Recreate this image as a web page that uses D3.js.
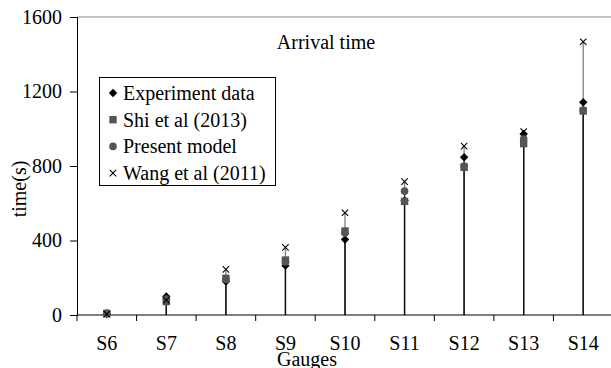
<!DOCTYPE html>
<html>
<head>
<meta charset="utf-8">
<script src="https://cdn.jsdelivr.net/npm/d3@7"></script>
<style>
  html, body { margin: 0; padding: 0; background: #fff; }
  svg { display: block; }
  svg text { font-family: "Liberation Serif", "Times New Roman", Times, serif; fill: #000; }
</style>
</head>
<body>
<svg id="chart" width="611" height="368"></svg>
<script>
// Gauges along the channel and arrival times (s) at each one
const gauges = ["S6", "S7", "S8", "S9", "S10", "S11", "S12", "S13", "S14"];
const experiment = [5, 100, 180, 265, 405, 615, 847, 972, 1142];
const shi2013 = [8, 72, 197, 295, 451, 610, 793, 920, 1095];
const presentModel = [10, 85, 190, 285, 440, 665, 800, 945, 1100];
const wang2011 = [5, 80, 245, 363, 549, 716, 907, 985, 1467];
const yTicks = [0, 400, 800, 1200, 1600];

const series = [
  { name: "Experiment data", values: experiment, shape: "diamond", color: "#000" },
  { name: "Shi et al (2013)", values: shi2013, shape: "square", color: "#555" },
  { name: "Present model", values: presentModel, shape: "circle", color: "#555" },
  { name: "Wang et al (2011)", values: wang2011, shape: "cross", color: "#000" }
];

const svg = d3.select("#chart");
const plotLeft = 77, plotRight = 613, plotTop = 17, plotBottom = 315;
const fontSize = 20;

const x = d3.scaleBand().domain(gauges).range([plotLeft, plotRight]).padding(0);
const y = d3.scaleLinear().domain([0, 1600]).range([plotBottom, plotTop]);
const cx = g => x(g) + x.bandwidth() / 2;

// top frame line
svg.append("line")
  .attr("x1", plotLeft).attr("x2", 611).attr("y1", plotTop).attr("y2", plotTop)
  .attr("stroke", "#888").attr("stroke-width", 1);

// drop lines from each point to the axis
series.forEach(s => {
  svg.append("g").selectAll("line").data(s.values).join("line")
    .attr("x1", (d, i) => cx(gauges[i]))
    .attr("x2", (d, i) => cx(gauges[i]))
    .attr("y1", d => y(d)).attr("y2", y(0))
    .attr("stroke", "#000").attr("stroke-opacity", 0.5).attr("stroke-width", 1.3);
});

// y axis
const yAxis = svg.append("g").attr("transform", `translate(${plotLeft},0)`)
  .call(d3.axisLeft(y).tickValues(yTicks).tickSize(7).tickPadding(8).tickFormat(d3.format("d")));
yAxis.attr("font-family", null).attr("font-size", fontSize);
yAxis.select(".domain").attr("stroke", "#000");
yAxis.selectAll("text").attr("font-size", fontSize);

// x axis: labels centred under each gauge, ticks between gauges
const xAxis = svg.append("g").attr("transform", `translate(0,${plotBottom})`)
  .call(d3.axisBottom(x).tickSize(0).tickPadding(21));
xAxis.attr("font-family", null).attr("font-size", fontSize);
xAxis.select(".domain").remove();
xAxis.selectAll("text").attr("font-size", fontSize);
svg.append("line").attr("x1", plotLeft).attr("x2", 611).attr("y1", plotBottom).attr("y2", plotBottom)
  .attr("stroke", "#000");
svg.append("g").selectAll("line").data(gauges).join("line")
  .attr("x1", d => x(d)).attr("x2", d => x(d))
  .attr("y1", plotBottom).attr("y2", plotBottom + 6)
  .attr("stroke", "#000");

// marker shapes
function marker(sel, shape, color) {
  if (shape === "diamond") {
    sel.append("path").attr("d", "M0,-4.2L4.2,0L0,4.2L-4.2,0Z").attr("fill", color);
  } else if (shape === "square") {
    sel.append("rect").attr("x", -3.7).attr("y", -3.7).attr("width", 7.4).attr("height", 7.4).attr("fill", color);
  } else if (shape === "circle") {
    sel.append("circle").attr("r", 3.8).attr("fill", color);
  } else {
    sel.append("path").attr("d", "M-3.2,-3.2L3.2,3.2M-3.2,3.2L3.2,-3.2").attr("stroke", color).attr("stroke-width", 1.1).attr("fill", "none");
  }
}

series.forEach(s => {
  svg.append("g").selectAll("g").data(s.values).join("g")
    .attr("transform", (d, i) => `translate(${cx(gauges[i])},${y(d)})`)
    .each(function() { marker(d3.select(this), s.shape, s.color); });
});

// title inside the plot
svg.append("text").attr("x", 326).attr("y", 49).attr("text-anchor", "middle")
  .attr("font-size", fontSize).text("Arrival time");

// axis titles
svg.append("text").attr("transform", "translate(26,189) rotate(-90)")
  .attr("text-anchor", "middle").attr("font-size", fontSize).text("time(s)");
svg.append("text").attr("x", 307).attr("y", 366).attr("text-anchor", "middle")
  .attr("font-size", fontSize).text("Gauges");

// legend
const legend = svg.append("g");
legend.append("rect").attr("x", 99.5).attr("y", 77.5).attr("width", 176).attr("height", 108)
  .attr("fill", "#fff").attr("stroke", "#000");
series.forEach((s, i) => {
  const ly = 93 + i * 26.7;
  const g = legend.append("g").attr("transform", `translate(113,${ly})`);
  marker(g, s.shape, s.color);
  legend.append("text").attr("x", 123).attr("y", ly + 7).attr("font-size", fontSize).text(s.name);
});
</script>
</body>
</html>
